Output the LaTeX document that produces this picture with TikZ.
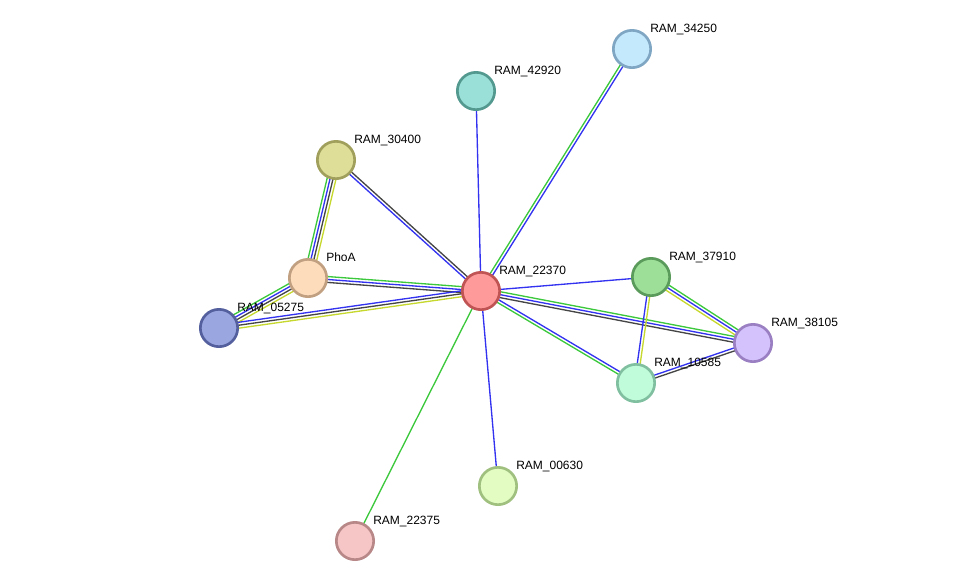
\documentclass[tikz,border=0pt]{standalone}
\usepackage{fontspec}
\setmainfont{Liberation Sans}
\usepackage{xcolor}
% line colours of the evidence channels
\definecolor{cG}{HTML}{3CC83C}
\definecolor{cB}{HTML}{3232F0}
\definecolor{cK}{HTML}{454545}
\definecolor{cY}{HTML}{C6D82E}
% protein fill / border colours
\definecolor{cF22370}{HTML}{FF9A9A}\definecolor{cD22370}{HTML}{C05454}
\definecolor{cF34250}{HTML}{C4E8FC}\definecolor{cD34250}{HTML}{7FA6C2}
\definecolor{cF42920}{HTML}{9AE0D8}\definecolor{cD42920}{HTML}{54998F}
\definecolor{cF30400}{HTML}{DEDE98}\definecolor{cD30400}{HTML}{A0A05C}
\definecolor{cFPhoA}{HTML}{FDDCBC}\definecolor{cDPhoA}{HTML}{C0A080}
\definecolor{cF05275}{HTML}{9AA6E0}\definecolor{cD05275}{HTML}{54609E}
\definecolor{cF37910}{HTML}{9DDE98}\definecolor{cD37910}{HTML}{5A9A5A}
\definecolor{cF38105}{HTML}{D4C2FC}\definecolor{cD38105}{HTML}{9A80C2}
\definecolor{cF10585}{HTML}{C0FCDA}\definecolor{cD10585}{HTML}{80C0A0}
\definecolor{cF00630}{HTML}{E2FCC2}\definecolor{cD00630}{HTML}{A0C080}
\definecolor{cF22375}{HTML}{F6C6C6}\definecolor{cD22375}{HTML}{B88888}
\usepackage{tikz}
\usetikzlibrary{calc,backgrounds}
\tikzset{
  node-prot/.style={circle,line width=2pt,minimum size=28pt,inner sep=0pt},
  node-label/.style={anchor=base west,inner sep=0pt,
    font=\fontsize{9}{10}\selectfont},
  edge-line/.style={line width=1pt},
}

\begin{document}
\begin{tikzpicture}[x=0.75pt,y=-0.75pt]
  \useasboundingbox (0,0) rectangle (976,587);
  \foreach \id/\x/\y/\txt in {22370/481/291/RAM\_22370, 34250/632/49/RAM\_34250,
      42920/476/91/RAM\_42920, 30400/336/160/RAM\_30400, PhoA/308/278/PhoA,
      05275/219/328/RAM\_05275, 37910/651/277/RAM\_37910, 38105/753/343/RAM\_38105,
      10585/636/383/RAM\_10585, 00630/498/486/RAM\_00630, 22375/355/541/RAM\_22375} {
    \node[node-prot,draw=cD\id,fill=cF\id] (n\id) at (\x,\y) {};
    \node[node-label] (l\id) at ($(n\id)+(18,-17)$) {\txt};
  }
  \begin{scope}[on background layer]
    \foreach \a/\b/\n/\cols in {n22370/n34250/2/{cG,cB}, n22370/n42920/1/{cB},
        n22370/n30400/2/{cB,cK}, nPhoA/n30400/4/{cG,cB,cK,cY},
        n05275/nPhoA/4/{cG,cB,cK,cY}, nPhoA/n22370/3/{cG,cB,cK},
        n05275/n22370/3/{cB,cK,cY}, n22370/n37910/1/{cB},
        n22370/n38105/3/{cG,cB,cK}, n10585/n22370/2/{cG,cB},
        n37910/n38105/3/{cG,cB,cY}, n10585/n37910/2/{cB,cY},
        n10585/n38105/2/{cB,cK}, n22370/n00630/1/{cB}, n22370/n22375/1/{cG}} {
      \foreach \c [count=\i] in \cols {
        \pgfmathsetmacro\off{((\n+1)/2-\i)*2.2}
        \draw[edge-line,\c] ($(\a)!\off pt!90:(\b)$) -- ($(\b)!\off pt!-90:(\a)$);
      }
    }
  \end{scope}
\end{tikzpicture}
\end{document}
